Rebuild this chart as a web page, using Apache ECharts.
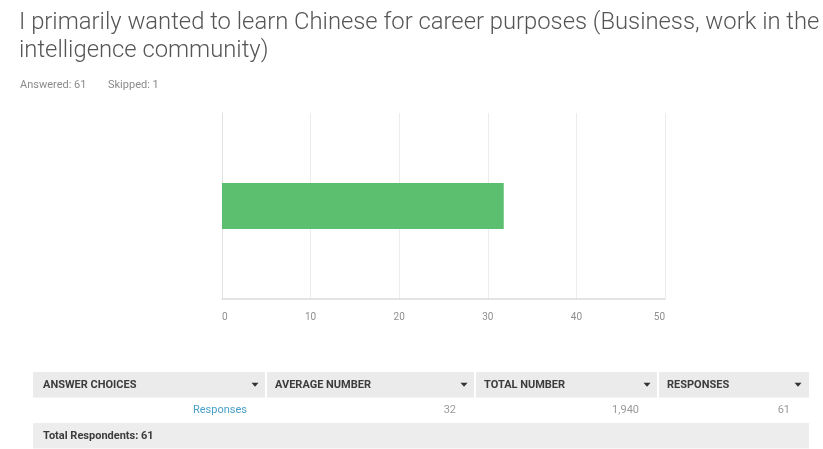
<!DOCTYPE html>
<html>
<head>
<meta charset="utf-8">
<script src="https://cdn.jsdelivr.net/npm/echarts@6/dist/echarts.min.js"></script>
<style>
  html, body { margin: 0; padding: 0; background: #fff; }
  #chart { width: 823px; height: 449px; }
</style>
</head>
<body>
<div id="chart"></div>
<script>
// Survey question and answer counts
const questionText = 'I primarily wanted to learn Chinese for career purposes (Business, work in the\nintelligence community)';
const answeredCount = 61;
const skippedCount = 1;

// Chart data
const choices = ['Responses'];
const averages = [31.8];
const totals = [1940];
const responseCounts = [61];
const xTicks = [0, 10, 20, 30, 40, 50];

// Table headers
const tableHeaders = ['ANSWER CHOICES', 'AVERAGE NUMBER', 'TOTAL NUMBER', 'RESPONSES'];

const chart = echarts.init(document.getElementById('chart'), null, { renderer: 'canvas' });

const FONT = 'Roboto, "Noto Sans", sans-serif';

// Table layout
const colEdges = [33, 266, 475, 658, 809];
const headerTop = 372, rowH = 25.5;
const graphics = [];

// header background cells
for (let i = 0; i < tableHeaders.length; i++) {
  const x0 = colEdges[i] + (i === 0 ? 0 : 1);
  const x1 = colEdges[i + 1] - (i === tableHeaders.length - 1 ? 0 : 1);
  graphics.push({
    type: 'rect', shape: { x: x0, y: headerTop, width: x1 - x0, height: rowH },
    style: { fill: '#ebebeb' }, silent: true
  });
  graphics.push({
    type: 'text', x: colEdges[i] + (i === 0 ? 10 : 9), y: headerTop + rowH / 2,
    style: { text: tableHeaders[i], fill: '#3c3c3c', font: 'bold 11px ' + FONT, verticalAlign: 'middle' },
    silent: true
  });
  // sort arrow
  const ax = colEdges[i + 1] - 11;
  const ay = headerTop + rowH / 2;
  graphics.push({
    type: 'polygon', shape: { points: [[ax - 3.5, ay - 2], [ax + 3.5, ay - 2], [ax, ay + 2]] },
    style: { fill: '#333' }, silent: true
  });
}

// data rows
choices.forEach((name, r) => {
  const cy = headerTop + rowH * (r + 1) + rowH / 2;
  const cells = [
    { text: name, x: 247, fill: '#4aa0c8' },
    { text: String(Math.round(averages[r])), x: 456, fill: '#9a9a9a' },
    { text: totals[r].toLocaleString('en-US'), x: 639, fill: '#9a9a9a' },
    { text: String(responseCounts[r]), x: 790, fill: '#9a9a9a' }
  ];
  cells.forEach(c => graphics.push({
    type: 'text', x: c.x, y: cy,
    style: { text: c.text, fill: c.fill, font: '11px ' + FONT, align: 'right', verticalAlign: 'middle' },
    silent: true
  }));
});

// total respondents row
const totalTop = headerTop + rowH * (choices.length + 1);
graphics.push({
  type: 'rect', shape: { x: colEdges[0], y: totalTop, width: colEdges[4] - colEdges[0], height: rowH },
  style: { fill: '#ededed' }, silent: true
});
graphics.push({
  type: 'text', x: colEdges[0] + 10, y: totalTop + rowH / 2,
  style: { text: 'Total Respondents: ' + answeredCount, fill: '#3c3c3c', font: 'bold 11px ' + FONT, verticalAlign: 'middle' },
  silent: true
});

// answered / skipped line
graphics.push({
  type: 'text', x: 20, y: 85,
  style: { text: 'Answered: ' + answeredCount, fill: '#8a8a8a', font: '11px ' + FONT, verticalAlign: 'middle' },
  silent: true
});
graphics.push({
  type: 'text', x: 108, y: 85,
  style: { text: 'Skipped: ' + skippedCount, fill: '#8a8a8a', font: '11px ' + FONT, verticalAlign: 'middle' },
  silent: true
});

chart.setOption({
  animation: false,
  backgroundColor: '#fff',
  title: {
    text: questionText,
    left: 19, top: 9, padding: 0,
    textStyle: { fontFamily: FONT, fontWeight: 300, fontSize: 23.8, color: '#555', lineHeight: 28 }
  },
  grid: { left: 222, right: 158, top: 113, bottom: 150, containLabel: false },
  xAxis: {
    type: 'value', min: xTicks[0], max: xTicks[xTicks.length - 1], interval: 10,
    axisLine: { show: true, lineStyle: { color: '#dcdcdc', width: 1.5 } },
    axisTick: { show: false },
    axisLabel: {
      color: '#8f8f8f', fontSize: 10, fontFamily: FONT, margin: 13,
      alignMinLabel: 'left', alignMaxLabel: 'right'
    },
    splitLine: { show: true, lineStyle: { color: '#ececec', width: 1 } }
  },
  yAxis: {
    type: 'category', data: choices,
    axisLine: { show: true, lineStyle: { color: '#e2e2e2' } },
    axisTick: { show: false },
    axisLabel: { show: false }
  },
  series: [{
    type: 'bar', data: averages, barWidth: 46,
    itemStyle: { color: '#5bbf6f' }
  }],
  graphic: graphics
});
</script>
</body>
</html>
